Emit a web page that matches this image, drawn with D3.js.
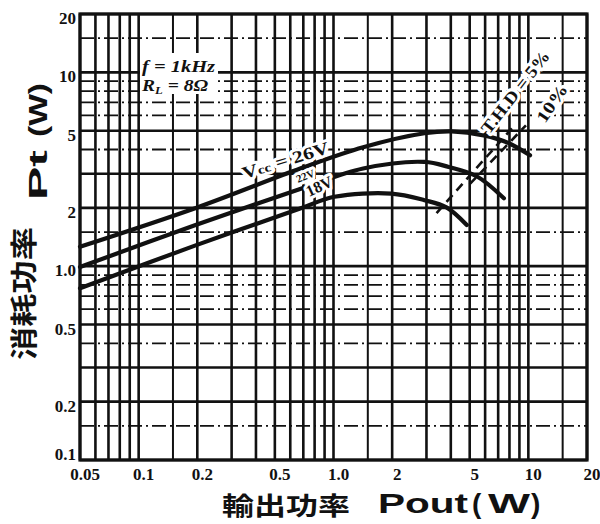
<!DOCTYPE html>
<html><head><meta charset="utf-8">
<script src="https://cdn.jsdelivr.net/npm/d3@7"></script>
<style>body{margin:0;background:#fff}</style>
</head><body><svg id="c" width="600" height="524"></svg>
<script>
// ---- data ----
const xTickValues=[0.05,0.1,0.2,0.5,1,2,5,10,20];
const xTickLabels=["0.05","0.1","0.2","0.5","1.0","2","5","10","20"];
const yTickValues=[0.1,0.2,0.5,1,2,5,10,20];
const yTickLabels=["0.1","0.2","0.5","1.0","2","5","10","20"];
const xGrid=[0.05,0.06,0.07,0.08,0.09,0.1,0.15,0.2,0.3,0.4,0.5,0.6,0.7,0.8,0.9,1,1.5,2,3,4,5,6,7,8,9,10,15,20];
const yGridSolid=[0.1,0.2,0.3,0.5,1,2,3,5,10,20];
const yGridDashed=[0.15,0.4,0.6,0.7,0.8,0.9,1.5,4,6,7,8,9,15];
const seriesNames=["Vcc=26V","22V","18V"];
const pout26=[0.05,0.2,0.68,1.42,2.93,4.04,5.9,7.94,10.2];
const pt26=[1.26,2.01,3.2,4.11,4.85,4.96,4.73,4.31,3.73];
const pout22=[0.05,0.196,0.68,1.42,2.93,3.9,5.43,7.49];
const pt22=[0.99,1.63,2.51,3.19,3.45,3.25,2.91,2.24];
const pout18=[0.05,0.196,0.68,1.01,1.98,2.93,3.8,4.83];
const pt18=[0.77,1.28,1.99,2.28,2.37,2.19,2.01,1.63];
const thd5Pout=[3.38,8.23], thd5Pt=[1.88,5.14];
const thd10Pout=[5.0,9.72], thd10Pt=[2.65,5.33];

// ---- layout ----
const L=80,R=587,T=14,B=460;
const svg=d3.select("#c");
svg.append("rect").attr("width",600).attr("height",524).attr("fill","#fff");
const x=d3.scaleLog().domain([0.05,20]).range([L,R]);
const y=d3.scaleLog().domain([0.1,20]).range([B,T]);
const ink="#111";

// grid
const g=svg.append("g");
g.selectAll(".vx").data(xGrid).join("line")
 .attr("x1",d=>x(d)).attr("x2",d=>x(d)).attr("y1",T).attr("y2",B)
 .attr("stroke",ink).attr("stroke-width",d=>[1.5,0.15,15].includes(d)?2:2.6);
g.selectAll(".hs").data(yGridSolid).join("line")
 .attr("x1",L).attr("x2",R).attr("y1",d=>y(d)).attr("y2",d=>y(d))
 .attr("stroke",ink).attr("stroke-width",2.6);
g.selectAll(".hd").data(yGridDashed).join("line")
 .attr("x1",L).attr("x2",R).attr("y1",d=>y(d)).attr("y2",d=>y(d))
 .attr("stroke",ink).attr("stroke-width",1.8).attr("stroke-dasharray","14,4,2,4");
// frame
svg.append("rect").attr("x",L).attr("y",T).attr("width",R-L).attr("height",B-T)
 .attr("fill","none").attr("stroke",ink).attr("stroke-width",3.2);

// annotation box f / RL
svg.append("rect").attr("x",140).attr("y",53).attr("width",78).attr("height",41).attr("fill","#fff");
const ann=svg.append("g").attr("font-family","Liberation Serif").attr("font-weight","bold").attr("font-style","italic").attr("font-size",17).attr("fill",ink);
ann.append("text").attr("x",142).attr("y",72).attr("textLength",73).attr("lengthAdjust","spacingAndGlyphs").text("f = 1kHz");
const rl=ann.append("text").attr("x",142).attr("y",91).attr("textLength",66).attr("lengthAdjust","spacingAndGlyphs");
rl.append("tspan").text("R");
rl.append("tspan").attr("font-size",11).attr("dy",3).text("L");
rl.append("tspan").attr("dy",-3).text(" = 8Ω");

// curves
const line=d3.line().x(d=>x(d[0])).y(d=>y(d[1])).curve(d3.curveCatmullRom.alpha(0.5));
const series=[[pout26,pt26],[pout22,pt22],[pout18,pt18]];
series.forEach(([px,py])=>{
  svg.append("path").datum(px.map((v,i)=>[v,py[i]])).attr("d",line)
   .attr("fill","none").attr("stroke",ink).attr("stroke-width",4.2).attr("stroke-linecap","round");
});
// THD lines
[[thd5Pout,thd5Pt],[thd10Pout,thd10Pt]].forEach(([px,py])=>{
  svg.append("line").attr("x1",x(px[0])).attr("y1",y(py[0])).attr("x2",x(px[1])).attr("y2",y(py[1]))
   .attr("stroke",ink).attr("stroke-width",2.6).attr("stroke-dasharray","9,6");
});

// labels on curves
function halo(sel){return sel.attr("stroke","#fff").attr("stroke-width",6).attr("paint-order","stroke").attr("stroke-linejoin","round");}
const lab=svg.append("g").attr("font-family","Liberation Serif").attr("font-weight","bold").attr("fill",ink);
const vcc=halo(lab.append("text").attr("transform","translate(244,179) rotate(-17)").attr("font-size",17)
  .attr("textLength",90).attr("lengthAdjust","spacingAndGlyphs"));
vcc.append("tspan").text("V");
vcc.append("tspan").attr("font-size",12).text("cc");
vcc.append("tspan").text(" = 26V");
halo(lab.append("text").attr("transform","translate(298,183) rotate(-22)").attr("font-size",11).text(seriesNames[1]));
halo(lab.append("text").attr("transform","translate(309,197) rotate(-25)").attr("font-size",16).text(seriesNames[2]));
halo(lab.append("text").attr("transform","translate(489,135) rotate(-52)").attr("font-size",17)
  .attr("textLength",100).attr("lengthAdjust","spacingAndGlyphs").text("T.H.D = 5%"));
halo(lab.append("text").attr("transform","translate(545,124) rotate(-56)").attr("font-size",17)
  .attr("textLength",42).attr("lengthAdjust","spacingAndGlyphs").text("10%"));

// tick labels
const tk=svg.append("g").attr("font-family","Liberation Serif").attr("font-weight","bold").attr("font-size",17).attr("fill",ink);
tk.selectAll(".xl").data(xTickValues).join("text")
 .attr("x",d=>x(d)+5).attr("y",480).attr("text-anchor","middle").text((d,i)=>xTickLabels[i]);
tk.selectAll(".yl").data(yTickValues).join("text")
 .attr("x",76).attr("y",d=>Math.min(y(d)+10,460)).attr("text-anchor","end").text((d,i)=>yTickLabels[i]);

// axis titles
const cjk="'Noto Sans CJK JP','Noto Sans CJK SC',sans-serif";
svg.append("text").attr("x",222).attr("y",515).attr("font-family",cjk).attr("font-weight","bold").attr("font-size",25)
 .attr("textLength",128).attr("lengthAdjust","spacingAndGlyphs").attr("fill",ink).text("輸出功率");
const xt=svg.append("g").attr("font-family","Liberation Sans").attr("font-weight","bold").attr("font-size",28).attr("fill",ink);
xt.append("text").attr("x",378).attr("y",513).attr("textLength",90).attr("lengthAdjust","spacingAndGlyphs").text("Pout");
xt.append("text").attr("x",472).attr("y",513).text("(");
xt.append("text").attr("x",488).attr("y",513).attr("textLength",42).attr("lengthAdjust","spacingAndGlyphs").text("W");
xt.append("text").attr("x",531).attr("y",513).text(")");

svg.append("text").attr("transform","translate(34,360) rotate(-90)").attr("font-family",cjk).attr("font-weight","bold").attr("font-size",27)
 .attr("textLength",133).attr("lengthAdjust","spacingAndGlyphs").attr("fill",ink).text("消耗功率");
const yt=svg.append("g").attr("font-family","Liberation Sans").attr("font-weight","bold").attr("font-size",26).attr("fill",ink);
yt.append("text").attr("transform","translate(47,200) rotate(-90)").attr("textLength",50).attr("lengthAdjust","spacingAndGlyphs").text("Pt");
yt.append("text").attr("transform","translate(47,137) rotate(-90)").attr("textLength",54).attr("lengthAdjust","spacingAndGlyphs").text("(W)");
</script></body></html>
